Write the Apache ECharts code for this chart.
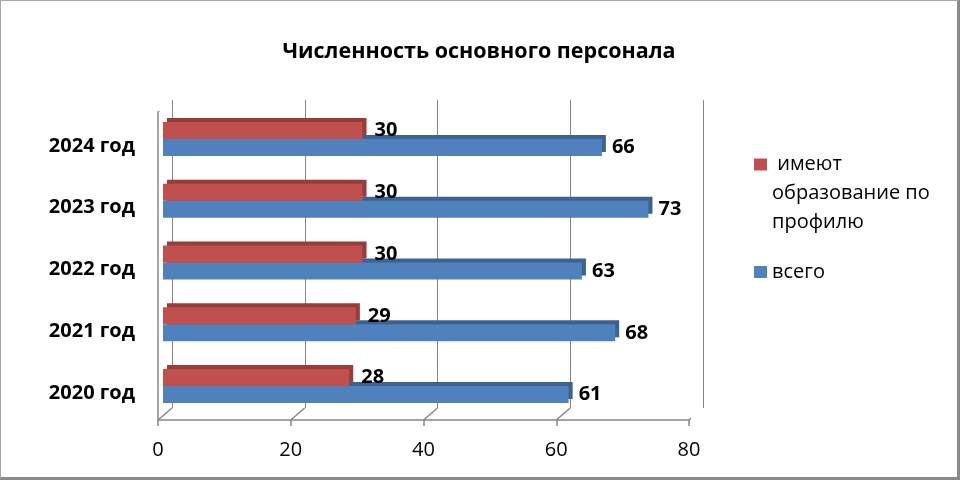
<!DOCTYPE html>
<html>
<head>
<meta charset="utf-8">
<title>Численность основного персонала</title>
<script src="https://cdn.jsdelivr.net/npm/echarts@6/dist/echarts.min.js"></script>
<style>
  html, body { margin: 0; padding: 0; background: #fff; }
  #main {
    width: 960px; height: 480px; box-sizing: border-box;
    border-left: 1px solid #a6a6a6; border-top: 1px solid #a6a6a6;
    border-right: 3px solid #8a8a8a; border-bottom: 3px solid #8a8a8a;
  }
</style>
</head>
<body>
<div id="main"></div>
<script>
// данные
var years = ['2020 год', '2021 год', '2022 год', '2023 год', '2024 год'];
var profile = [28, 29, 30, 30, 30];
var total = [61, 68, 63, 73, 66];
var xTicks = [0, 20, 40, 60, 80];
var nameProfile = 'имеют образование по профилю';
var nameTotal = 'всего';

var FONT = '"Open Sans", "Noto Sans", sans-serif';
var GRID_COLOR = '#868686';
// смещение "глубины" псевдо-3D рамки, px
var DEPTH_X = 14, DEPTH_Y = 12;
var FLOOR = { left: 157, top: 111, width: 531, height: 308 };

var chart = echarts.init(document.getElementById('main'));

// короткие диагонали от переднего края к задней стенке
var diag = xTicks.map(function (v) {
  return { coords: [[v, 0], [v + DEPTH_X * 80 / FLOOR.width, DEPTH_Y / FLOOR.height]] };
});
diag.push({ coords: [[0, 1], [DEPTH_X * 80 / FLOOR.width, 1 + DEPTH_Y / FLOOR.height]] });

chart.setOption({
  animation: false,
  textStyle: { fontFamily: FONT },
  title: {
    text: 'Численность основного персонала',
    left: 'center',
    top: 35,
    textStyle: { fontFamily: FONT, fontSize: 21.5, fontWeight: 'bold', color: '#000' }
  },
  legend: [
    {
      data: [nameProfile],
      left: 748, top: 86,
      orient: 'vertical',
      itemWidth: 13, itemHeight: 12,
      icon: 'rect',
      // пустая строка-распорка выравнивает первую строку по маркеру
      formatter: function () {
        return '{s| }\n{t| имеют}\n{t|образование по}\n{t|профилю}';
      },
      textStyle: {
        fontFamily: FONT, fontSize: 20, color: '#000',
        rich: {
          s: { height: 58, lineHeight: 58, fontSize: 20 },
          t: { fontFamily: FONT, fontSize: 20, color: '#000', lineHeight: 29 }
        }
      }
    },
    {
      data: [nameTotal],
      left: 748, top: 256,
      itemWidth: 13, itemHeight: 12,
      icon: 'rect',
      textStyle: { fontFamily: FONT, fontSize: 20, color: '#000' }
    }
  ],
  grid: [
    { left: 162, top: 107, width: 532, height: 309 },
    { left: 157 + DEPTH_X, top: FLOOR.top - DEPTH_Y, width: FLOOR.width, height: FLOOR.height },
    FLOOR
  ],
  xAxis: [
    { gridIndex: 0, type: 'value', min: 0, max: 80, show: false },
    {
      gridIndex: 1, type: 'value', min: 0, max: 80, interval: 20,
      axisLine: { show: false }, axisTick: { show: false }, axisLabel: { show: false },
      splitLine: { show: true, lineStyle: { color: GRID_COLOR, width: 1 } }
    },
    {
      gridIndex: 2, type: 'value', min: 0, max: 80, interval: 20,
      axisLine: { show: true, lineStyle: { color: GRID_COLOR, width: 1.5 } },
      axisTick: { show: true, length: 6, lineStyle: { color: GRID_COLOR, width: 1.5 } },
      axisLabel: { margin: 20, fontSize: 20, color: '#000', fontFamily: FONT },
      splitLine: { show: false }
    }
  ],
  yAxis: [
    {
      gridIndex: 0, type: 'category', data: years,
      axisLine: { show: false }, axisTick: { show: false },
      axisLabel: {
        margin: 28,
        formatter: function (v) { return '{y|' + v + '}'; },
        rich: {
          y: {
            fontSize: 20, fontWeight: 'bold', color: '#000', fontFamily: FONT,
            padding: [14, 0, 0, 0]
          }
        }
      }
    },
    { gridIndex: 1, type: 'value', min: 0, max: 1, show: false },
    {
      gridIndex: 2, type: 'value', min: 0, max: 1,
      axisLine: { show: true, lineStyle: { color: GRID_COLOR, width: 1.5 } },
      axisTick: { show: false }, axisLabel: { show: false }, splitLine: { show: false }
    }
  ],
  series: [
    {
      name: nameProfile, type: 'bar', data: profile,
      xAxisIndex: 0, yAxisIndex: 0,
      barWidth: 17, barGap: '0%', z: 4,
      itemStyle: {
        color: '#C0504D',
        shadowColor: '#983B39', shadowBlur: 0, shadowOffsetX: 4, shadowOffsetY: -4
      },
      label: {
        show: true, position: 'right', distance: 12,
        fontSize: 20, fontWeight: 'bold', color: '#000', fontFamily: FONT
      }
    },
    {
      name: nameTotal, type: 'bar', data: total,
      xAxisIndex: 0, yAxisIndex: 0,
      barWidth: 17, barGap: '0%', z: 3,
      itemStyle: {
        color: '#4F81BD',
        shadowColor: '#3B6290', shadowBlur: 0, shadowOffsetX: 4, shadowOffsetY: -4
      },
      label: {
        show: true, position: 'right', distance: 10,
        fontSize: 20, fontWeight: 'bold', color: '#000', fontFamily: FONT
      }
    },
    {
      type: 'lines', coordinateSystem: 'cartesian2d',
      xAxisIndex: 2, yAxisIndex: 2, silent: true, z: 1,
      lineStyle: { color: GRID_COLOR, width: 1.5, opacity: 1 },
      data: diag
    }
  ]
});
</script>
</body>
</html>
